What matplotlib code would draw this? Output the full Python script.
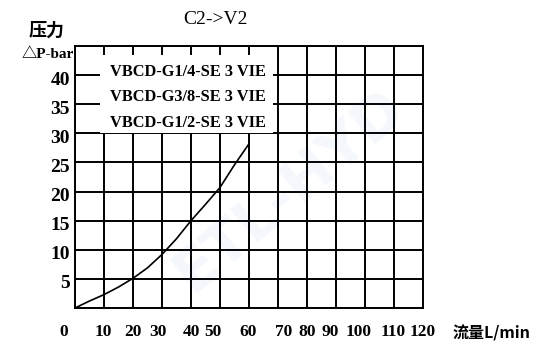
import matplotlib
matplotlib.use('Agg')
import matplotlib.pyplot as plt
from matplotlib.patches import Rectangle

# data
flow = [0, 5, 10, 15, 20, 25, 30, 35, 40, 45, 50, 55, 60]
dp = [0, 1.2, 2.3, 3.6, 5.1, 6.9, 9.2, 11.9, 15.0, 17.8, 20.7, 24.6, 28.2]
x_labels = ['0', '10', '20', '30', '40', '50', '60', '70', '80', '90', '100', '110', '120']
y_labels = ['5', '10', '15', '20', '25', '30', '35', '40']
models = ['VBCD-G1/4-SE 3 VIE', 'VBCD-G3/8-SE 3 VIE', 'VBCD-G1/2-SE 3 VIE']

# label positions as printed (pixels in the original drawing)
x_label_px = [64, 103, 133, 158, 191, 213, 248, 284, 307, 330, 359, 393, 423]

W, H = 545, 346
num_font = ['Liberation Serif', 'DejaVu Serif']
cjk_font = ['Noto Sans CJK SC', 'DejaVu Sans']


def fx(x):
    return x / W


def fy(y):
    return 1 - y / H


fig = plt.figure(figsize=(W / 100, H / 100), dpi=100)
fig.patch.set_facecolor('white')

# faint watermark
fig.text(fx(290), fy(190), 'ETL-HYD', fontsize=42, fontweight='bold', color='#1a5fb4',
         alpha=0.05, rotation=40, ha='center', va='center', zorder=0)

ax = fig.add_axes([fx(75), fy(308), fx(423) - fx(75), (308 - 46) / H])
ax.set_xlim(0, 120)
ax.set_ylim(0, 45)
ax.set_facecolor('none')

for gx in range(0, 121, 10):
    ax.axvline(gx, color='black', lw=1.4, zorder=1)
for gy in range(0, 46, 5):
    ax.axhline(gy, color='black', lw=1.4, zorder=1)
for s in ax.spines.values():
    s.set_linewidth(1.4)
ax.set_xticks([])
ax.set_yticks([])

ax.plot(flow, dp, color='black', lw=1.2, zorder=3)

# white label box covering the grid
ax.add_patch(Rectangle((8.6, 30), 68.3 - 8.6, 43.5 - 30, facecolor='white',
                       edgecolor='none', zorder=2))
for i, m in enumerate(models):
    fig.text(fx(110), fy(72 + i * 25.5), m, fontsize=11.8, fontweight='bold',
             family=num_font, ha='left', va='center', zorder=4)

# y tick labels
for i, lab in enumerate(y_labels):
    yv = (i + 1) * 5
    ypx = 308 - yv / 45 * 262 + 5
    fig.text(fx(70), fy(ypx), lab, fontsize=14, fontweight='bold', family=num_font,
             ha='right', va='center')

# x tick labels
for lab, px in zip(x_labels, x_label_px):
    fig.text(fx(px), fy(332), lab, fontsize=12.5, fontweight='bold', family=num_font,
             ha='center', va='center')

fig.text(fx(216), fy(20), 'C2->V2', fontsize=14, family=num_font, ha='center', va='center')
fig.text(fx(47), fy(30), '压力', fontsize=13, fontweight='bold', family=cjk_font,
         ha='center', va='center')
fig.text(fx(48), fy(55), '△P-bar', fontsize=11, fontweight='bold',
         family=['Liberation Serif', 'Noto Sans CJK SC'], ha='center', va='center')
fig.text(fx(492), fy(333), '流量L/min', fontsize=11.5, fontweight='bold',
         family=['Noto Sans CJK SC', 'DejaVu Sans'], ha='center', va='center')

fig.savefig('out.png', dpi=100)
